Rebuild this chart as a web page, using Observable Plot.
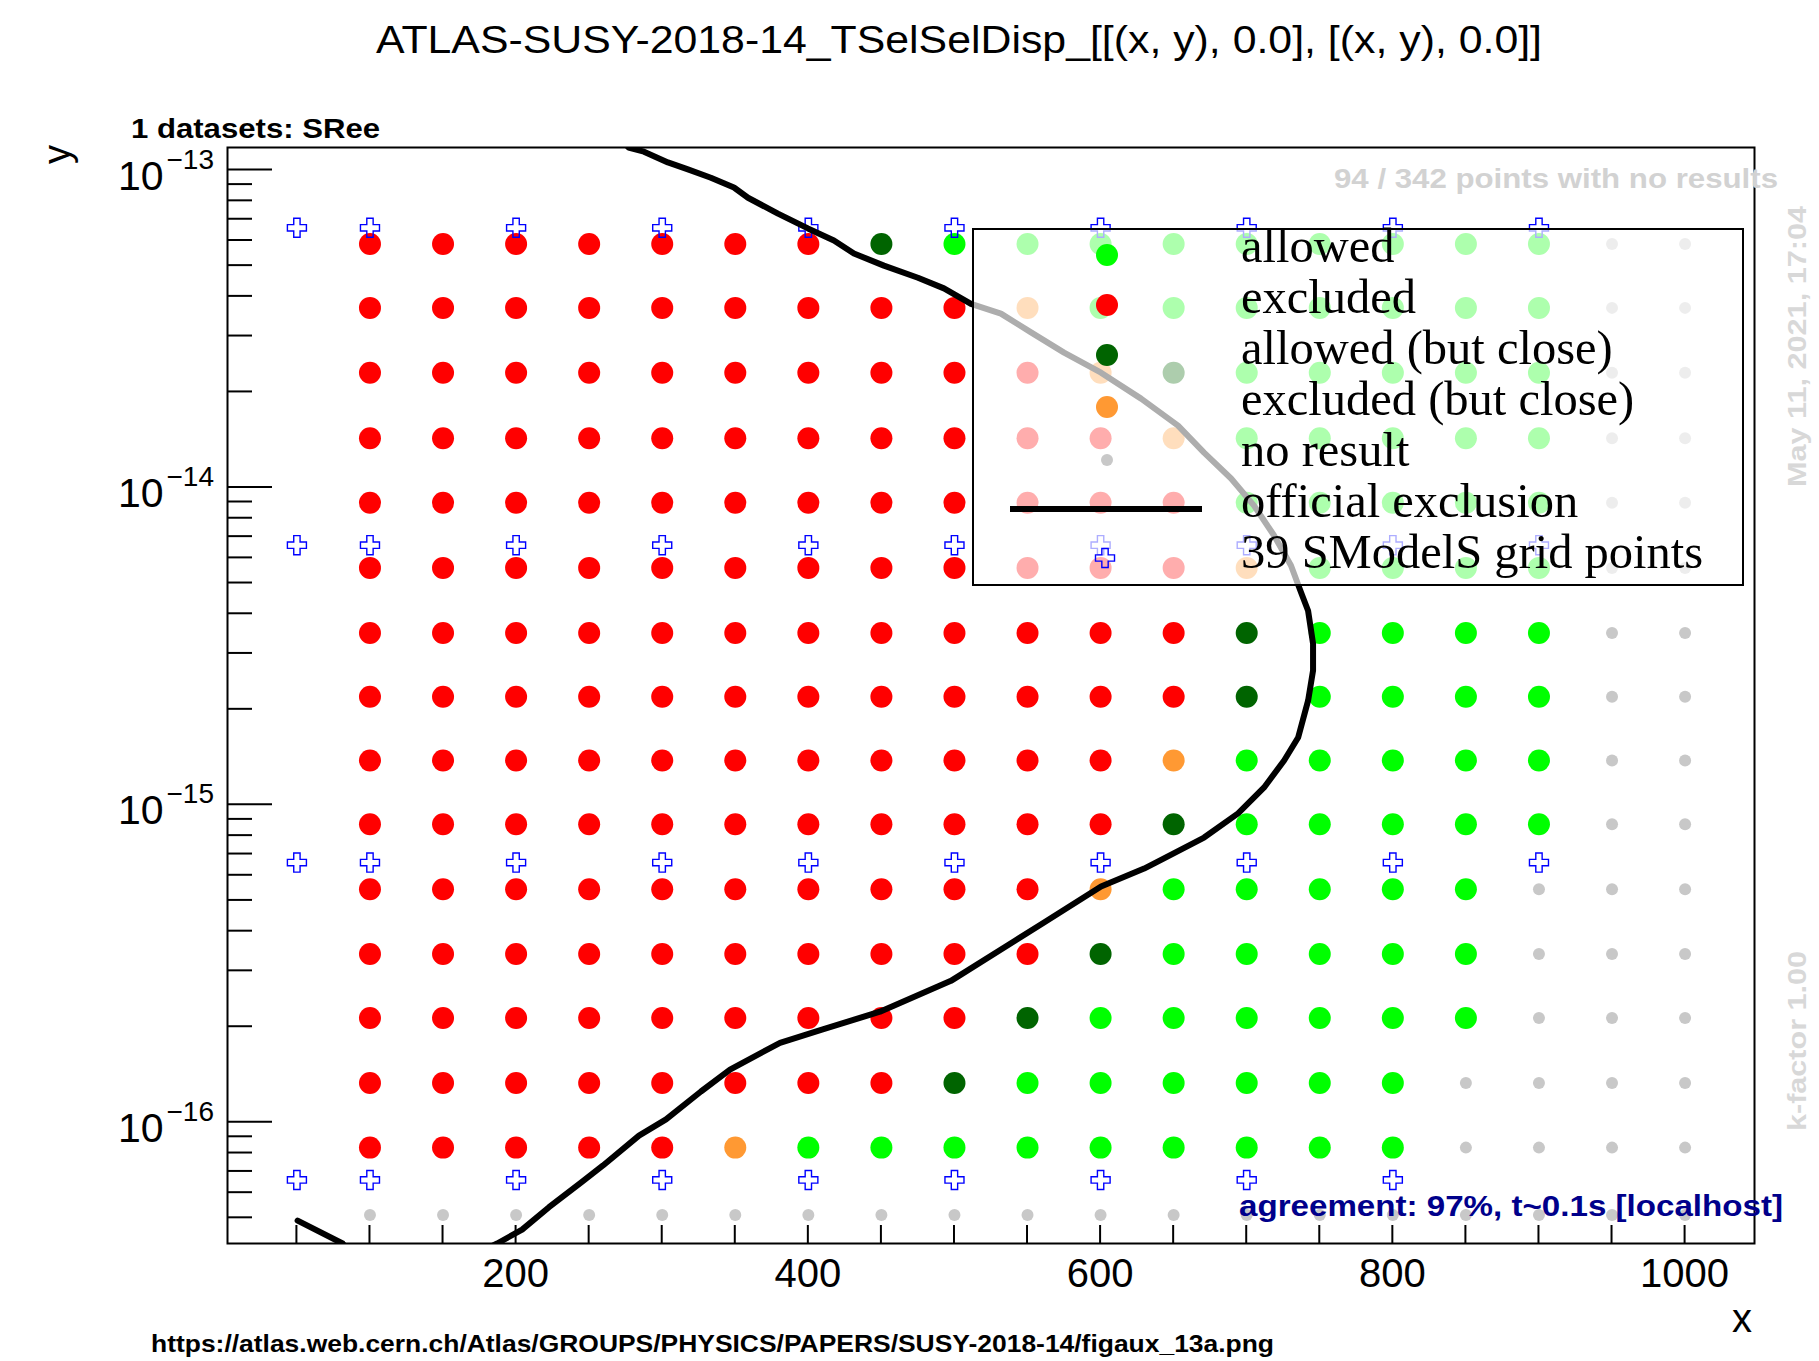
<!DOCTYPE html>
<html>
<head>
<meta charset="utf-8">
<script src="https://cdn.jsdelivr.net/npm/d3@7"></script>
<script src="https://cdn.jsdelivr.net/npm/@observablehq/plot@0.6"></script>
<style>
  html, body { margin: 0; padding: 0; background: #ffffff; }
  svg { display: block; }
</style>
</head>
<body>
<div id="chart"></div>
<script>
// ---- scanned grid: mass columns (x) and width rows (y, GeV) ----
const massColumns = [100, 150, 200, 250, 300, 350, 400, 450, 500, 550, 600, 650, 700, 750, 800, 850, 900, 950, 1000];
const widthRows = [5.85e-14, 3.68e-14, 2.30e-14, 1.43e-14, 8.95e-15, 5.58e-15, 3.48e-15, 2.19e-15,
                   1.38e-15, 8.69e-16, 5.42e-16, 3.39e-16, 2.13e-16, 1.33e-16, 8.32e-17, 5.10e-17];
// one status letter per mass column: R excluded, G allowed, D allowed (but close), O excluded (but close), N no result
const statusRows = [
  "RRRRRRRDGGGGGGGGGNN",
  "RRRRRRRRROGGGGGGGNN",
  "RRRRRRRRRRODGGGGGNN",
  "RRRRRRRRRRROGGGGGNN",
  "RRRRRRRRRRRRGGGGGNN",
  "RRRRRRRRRRRROGGGGNN",
  "RRRRRRRRRRRRDGGGGNN",
  "RRRRRRRRRRRRDGGGGNN",
  "RRRRRRRRRRROGGGGGNN",
  "RRRRRRRRRRRDGGGGGNN",
  "RRRRRRRRRROGGGGGNNN",
  "RRRRRRRRRRDGGGGGNNN",
  "RRRRRRRRRDGGGGGGNNN",
  "RRRRRRRRDGGGGGGNNNN",
  "RRRRROGGGGGGGGGNNNN",
  "NNNNNNNNNNNNNNNNNNN"
];
const statusColors = { R: "#ff0000", G: "#00ff00", D: "#006400", O: "#ff9933", N: "#c8c8c8" };

// ---- SModelS grid points ----
const smodelsWidths = [6.58e-14, 6.58e-15, 6.58e-16, 6.58e-17];
const smodelsMasses = [
  [50, 100, 200, 300, 400, 500, 600, 700, 800, 900],
  [50, 100, 200, 300, 400, 500, 600, 700, 800, 900],
  [50, 100, 200, 300, 400, 500, 600, 700, 800, 900],
  [50, 100, 200, 300, 400, 500, 600, 700, 800]
];

// ---- official exclusion contour ----
const exclusionX = [272, 277, 287.5, 303.9, 317.6, 333.3, 349.1, 358.7, 379.2, 399.7, 417.5, 431.2, 451.7, 475.0,
  492.8, 511.3, 531.8, 552.4, 575.0, 600.3, 627.7, 653.0, 670.8, 689.3, 705.0, 718.7, 730.3, 737.2,
  742.0, 745.4, 745.4, 742.0, 735.2, 725.6, 711.9, 694.1, 670.8, 643.4, 629.8, 600.3, 561.3, 541.4,
  497.6, 449.0, 409.3, 380.6, 346.4, 326.5, 302.6, 284.1, 259.5, 244.4, 222.5, 204.1, 187, 180];
const exclusionY = [1.25e-13, 1.178e-13, 1.143e-13, 1.057e-13, 1.005e-13, 9.46e-14, 8.81e-14, 8.18e-14, 7.29e-14, 6.55e-14,
  6.00e-14, 5.46e-14, 5.00e-14, 4.58e-14, 4.24e-14, 3.79e-14, 3.53e-14, 3.08e-14, 2.66e-14, 2.30e-14,
  1.905e-14, 1.567e-14, 1.288e-14, 1.067e-14, 8.77e-15, 7.06e-15, 5.68e-15, 4.67e-15, 4.09e-15, 3.22e-15,
  2.65e-15, 2.13e-15, 1.63e-15, 1.38e-15, 1.135e-15, 9.40e-16, 7.89e-16, 6.78e-16, 6.30e-16, 5.53e-16,
  4.26e-16, 3.73e-16, 2.79e-16, 2.23e-16, 1.96e-16, 1.78e-16, 1.466e-16, 1.25e-16, 1.021e-16, 9.08e-17,
  7.31e-17, 6.46e-17, 5.40e-17, 4.59e-17, 4.15e-17, 4.0e-17];
const exclusionTailX = [50.5, 81.3, 86];
const exclusionTailY = [4.90e-17, 4.15e-17, 3.89e-17];

// ---- axes ----
const xDomain = [2.5, 1047.5];
const yDomain = [4.15e-17, 1.178e-13];
const xTickLabels = [200, 400, 600, 800, 1000];
const xTickValues = [50, 100, 150, 200, 250, 300, 350, 400, 450, 500, 550, 600, 650, 700, 750, 800, 850, 900, 950, 1000];
const yDecadeExponents = [-16, -15, -14, -13];

// ---- legend ----
const legendEntries = [
  { label: "allowed", kind: "dot", color: statusColors.G },
  { label: "excluded", kind: "dot", color: statusColors.R },
  { label: "allowed (but close)", kind: "dot", color: statusColors.D },
  { label: "excluded (but close)", kind: "dot", color: statusColors.O },
  { label: "no result", kind: "small", color: statusColors.N },
  { label: "official exclusion", kind: "line", color: "#000000" },
  { label: "39 SModelS grid points", kind: "cross", color: "#0000ff" }
];

// build tables
const gridPoints = [];
widthRows.forEach((w, i) => {
  massColumns.forEach((m, j) => {
    const s = statusRows[i][j];
    gridPoints.push({ x: m, y: w, status: s, color: statusColors[s] });
  });
});
const resultPoints = gridPoints.filter(d => d.status !== "N");
const noResultPoints = gridPoints.filter(d => d.status === "N");
const smodelsPoints = [];
smodelsWidths.forEach((w, i) => smodelsMasses[i].forEach(m => smodelsPoints.push({ x: m, y: w })));
const exclusion = exclusionX.map((x, i) => ({ x, y: exclusionY[i] }));
const exclusionTail = exclusionTailX.map((x, i) => ({ x, y: exclusionTailY[i] }));

const W = 1819, H = 1361;
const mL = 227, mR = 65, mT = 147, mB = 118;

const plot = Plot.plot({
  width: W,
  height: H,
  marginLeft: mL,
  marginRight: mR,
  marginTop: mT,
  marginBottom: mB,
  style: { background: "#ffffff", fontFamily: "Liberation Sans, Arial, sans-serif" },
  x: { domain: xDomain, axis: null },
  y: { type: "log", domain: yDomain, axis: null },
  color: { type: "identity" },
  marks: [
    Plot.dot(noResultPoints, { x: "x", y: "y", fill: "color", r: 6 }),
    Plot.dot(resultPoints, { x: "x", y: "y", fill: "color", r: 11 }),
    Plot.dot(smodelsPoints, { x: "x", y: "y", symbol: "cross", r: 8, fill: "none", stroke: "#0000ff", strokeWidth: 1.4 }),
    Plot.line(exclusion, { x: "x", y: "y", stroke: "#000000", strokeWidth: 6, clip: true, curve: "linear" }),
    Plot.line(exclusionTail, { x: "x", y: "y", stroke: "#000000", strokeWidth: 6, clip: true }),
    Plot.frame({ stroke: "#000000", strokeWidth: 2 })
  ]
});

document.getElementById("chart").appendChild(plot);

const sx = plot.scale("x");
const sy = plot.scale("y");
const svg = d3.select(plot);
const frameNode = svg.select("[aria-label=frame]").node();

// legend box: translucent white panel over the points and contour
const lx = 973, ly = 229, lw = 770, lh = 356;
const legend = svg.insert("g", () => frameNode).attr("class", "legend").attr("text-anchor", "start");
legend.append("rect")
  .attr("x", lx).attr("y", ly).attr("width", lw).attr("height", lh)
  .attr("fill", "#ffffff").attr("fill-opacity", 0.68)
  .attr("stroke", "#000000").attr("stroke-width", 2);
const markerX = 1107, textX = 1241;
const markerYs = [255, 305, 355, 407, 460, 509, 558];
const baselineYs = [262, 313, 364, 415, 466, 517, 568];
legendEntries.forEach((e, i) => {
  const my = markerYs[i];
  if (e.kind === "dot" || e.kind === "small") {
    legend.append("circle").attr("cx", markerX).attr("cy", my)
      .attr("r", e.kind === "dot" ? 11 : 6).attr("fill", e.color);
  } else if (e.kind === "line") {
    legend.append("line").attr("x1", 1010).attr("x2", 1202).attr("y1", my).attr("y2", my)
      .attr("stroke", e.color).attr("stroke-width", 6);
  } else {
    legend.append("path")
      .attr("d", d3.symbol(d3.symbolCross, Math.PI * 64)())
      .attr("transform", `translate(${markerX - 2},${my})`)
      .attr("fill", "none").attr("stroke", e.color).attr("stroke-width", 1.4);
  }
  legend.append("text").attr("x", textX).attr("y", baselineYs[i])
    .attr("font-family", "Liberation Serif, Times New Roman, serif")
    .attr("font-size", 48.5).attr("fill", "#000000")
    .text(e.label);
});

// axes: ticks inside the frame
const axes = svg.append("g").attr("class", "axes").attr("stroke", "#000000").attr("stroke-width", 2);
const yBottom = H - mB;
xTickValues.forEach(v => {
  const x = sx.apply(v);
  axes.append("line").attr("x1", x).attr("x2", x).attr("y1", yBottom).attr("y2", yBottom - 18);
});
yDecadeExponents.forEach(e => {
  const y = sy.apply(Math.pow(10, e));
  axes.append("line").attr("x1", mL).attr("x2", mL + 45).attr("y1", y).attr("y2", y);
});
for (let e = -17; e <= -13; e++) {
  for (let k = 2; k <= 9; k++) {
    const v = k * Math.pow(10, e);
    if (v < yDomain[0] || v > yDomain[1]) continue;
    const y = sy.apply(v);
    axes.append("line").attr("x1", mL).attr("x2", mL + 25).attr("y1", y).attr("y2", y);
  }
}

const labels = svg.append("g").attr("font-family", "Liberation Sans, Arial, sans-serif")
  .attr("fill", "#000000").attr("text-anchor", "start");
xTickLabels.forEach(v => {
  labels.append("text").attr("x", sx.apply(v)).attr("y", 1287)
    .attr("text-anchor", "middle").attr("font-size", 40).text(v);
});
yDecadeExponents.forEach(e => {
  const y = sy.apply(Math.pow(10, e));
  const t = labels.append("text").attr("x", 214).attr("y", y + 20).attr("text-anchor", "end");
  t.append("tspan").attr("font-size", 41).text("10");
  t.append("tspan").attr("font-size", 28).attr("dy", -21).attr("dx", 3).text("\u2212" + Math.abs(e));
});

// axis titles
labels.append("text").attr("x", 1752).attr("y", 1332).attr("text-anchor", "end")
  .attr("font-size", 40).text("x");
labels.append("text").attr("transform", "translate(70,145) rotate(-90)").attr("text-anchor", "end")
  .attr("font-size", 38).text("y");

// titles and annotations
const fitted = (sel, len) => sel.attr("textLength", len).attr("lengthAdjust", "spacingAndGlyphs");
fitted(labels.append("text").attr("x", 376).attr("y", 53).attr("font-size", 39)
  .text("ATLAS-SUSY-2018-14_TSelSelDisp_[[(x, y), 0.0], [(x, y), 0.0]]"), 1166);
fitted(labels.append("text").attr("x", 131).attr("y", 138).attr("font-size", 28).attr("font-weight", "bold")
  .text("1 datasets: SRee"), 249);
fitted(labels.append("text").attr("x", 1334).attr("y", 188).attr("font-size", 27).attr("font-weight", "bold")
  .attr("fill", "#d2d2d2").text("94 / 342 points with no results"), 444);
fitted(labels.append("text").attr("x", 1239).attr("y", 1216).attr("font-size", 29).attr("font-weight", "bold")
  .attr("fill", "#00008b").text("agreement: 97%, t~0.1s [localhost]"), 544);
fitted(labels.append("text").attr("transform", "translate(1806,487) rotate(-90)").attr("font-size", 26)
  .attr("font-weight", "bold").attr("fill", "#d8d8d8").text("May 11, 2021, 17:04"), 281);
fitted(labels.append("text").attr("transform", "translate(1806,1131) rotate(-90)").attr("font-size", 26)
  .attr("font-weight", "bold").attr("fill", "#d8d8d8").text("k-factor 1.00"), 180);
fitted(labels.append("text").attr("x", 151).attr("y", 1352).attr("font-size", 24).attr("font-weight", "bold")
  .text("https://atlas.web.cern.ch/Atlas/GROUPS/PHYSICS/PAPERS/SUSY-2018-14/figaux_13a.png"), 1123);
</script>
</body>
</html>
